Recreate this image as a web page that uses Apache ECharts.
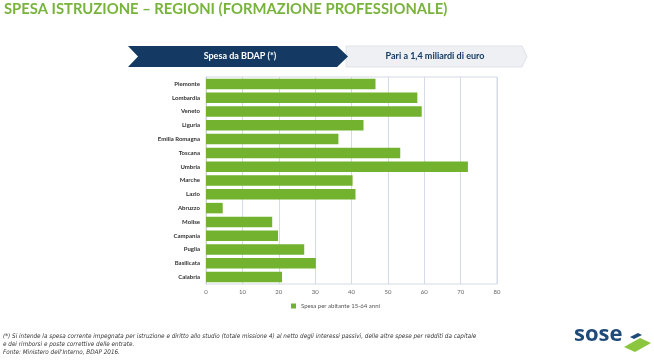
<!DOCTYPE html>
<html><head><meta charset="utf-8">
<script src="https://cdn.jsdelivr.net/npm/echarts@6/dist/echarts.min.js"></script>
<style>html,body{margin:0;padding:0;background:#fff}#c{width:654px;height:360px}</style>
</head><body><div id="c"></div>
<script>
const categories = ['Piemonte','Lombardia','Veneto','Liguria','Emilia Romagna','Toscana','Umbria','Marche','Lazio','Abruzzo','Molise','Campania','Puglia','Basilicata','Calabria'];
const values = [46.6, 58.1, 59.3, 43.3, 36.4, 53.4, 72.0, 40.3, 41.1, 4.6, 18.2, 19.8, 27.0, 30.2, 20.9];
const seriesName = 'Spesa per abitante 15-64 anni';
const xTicks = [0, 10, 20, 30, 40, 50, 60, 70, 80];

const chart = echarts.init(document.getElementById('c'), null, {renderer: 'canvas'});
const navy = '#143a63';
chart.setOption({
  animation: false,
  backgroundColor: '#fff',
  grid: {left: 206, right: 157, top: 77, bottom: 76, show: true, borderColor: '#d3dbe6', borderWidth: 1},
  xAxis: {
    type: 'value', min: xTicks[0], max: xTicks[xTicks.length - 1], interval: 10,
    axisLine: {show: false}, axisTick: {show: false},
    splitLine: {lineStyle: {color: '#d3dbe6', width: 1}},
    axisLabel: {color: '#666', fontSize: 6, fontFamily: 'Lato', margin: 5}
  },
  yAxis: {
    type: 'category', data: categories, inverse: true,
    axisLine: {show: true, lineStyle: {color: '#c5d3e3'}}, axisTick: {show: false},
    axisLabel: {color: '#333', fontSize: 6, fontWeight: 'bold', fontFamily: 'Lato', margin: 6}
  },
  legend: {
    left: 286, top: 298, itemWidth: 5, itemHeight: 5, itemGap: 4,
    icon: 'rect',
    textStyle: {color: '#555', fontSize: 6, fontFamily: 'Lato'},
    data: [seriesName]
  },
  series: [{
    name: seriesName, type: 'bar', data: values,
    barCategoryGap: '24%',
    itemStyle: {color: '#72b22f'}
  }],
  graphic: [
    {type: 'text', left: 4, top: 2, style: {text: 'SPESA ISTRUZIONE – REGIONI (FORMAZIONE PROFESSIONALE)', fill: '#78b43c', font: 'bold 14.8px Lato'}},
    {type: 'polygon', shape: {points: [[346,46],[522,46],[527,56.5],[522,67],[346,67]]}, style: {fill: '#eef0f3', stroke: '#dfe3e8', lineWidth: 1}},
    {type: 'polygon', shape: {points: [[128,46],[337,46],[348,56.5],[337,67],[128,67],[138,56.5]]}, style: {fill: navy}},
    {type: 'text', x: 240, y: 56.5, style: {text: 'Spesa da BDAP (*)', fill: '#fff', font: 'bold 9px Lato', align: 'center', verticalAlign: 'middle'}},
    {type: 'text', x: 435, y: 56.5, style: {text: 'Pari a 1,4 miliardi di euro', fill: navy, font: 'bold 9px Lato', align: 'center', verticalAlign: 'middle'}},
    {type: 'text', left: 3, top: 332, style: {text: "(*) Si intende la spesa corrente impegnata per istruzione e diritto allo studio (totale missione 4) al netto degli interessi passivi, delle altre spese per redditi da capitale\ne dei rimborsi e poste correttive delle entrate.\nFonte: Ministero dell'Interno, BDAP 2016.", fill: '#333', font: 'italic 6.3px "Liberation Sans Narrow", "DejaVu Sans Condensed", sans-serif', lineHeight: 8.2}},
    {type: 'text', left: 574, top: 324, style: {text: 'sose', fill: '#1e4a7a', font: 'bold 22px "Open Sans"'}},
    {type: 'polygon', shape: {points: [[624,347],[640,338],[651,343],[635,352]]}, style: {fill: '#8cc63f'}},
    {type: 'polygon', shape: {points: [[630,337],[638,333],[642,335],[634,339]]}, style: {fill: '#1e4a7a'}}
  ]
});
</script></body></html>
